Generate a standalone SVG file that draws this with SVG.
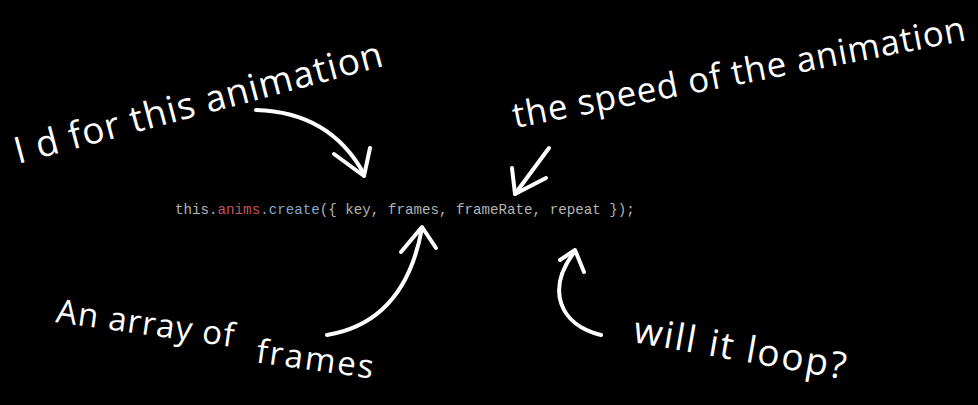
<svg xmlns="http://www.w3.org/2000/svg" width="978" height="405" viewBox="0 0 978 405">
<style>
.bg{fill:#000}
.hand{font-family:"Open Sans","Liberation Sans",sans-serif;fill:#fff;font-weight:400}
.code{font-family:"Liberation Mono","DejaVu Sans Mono",monospace;font-size:14.2px;fill:#b4b4b4}
.arr{fill:none;stroke:#fff;stroke-width:4;stroke-linecap:round;stroke-linejoin:round}
</style>
<rect class="bg" width="978" height="405"/>
<g id="code">
<text class="code" x="175" y="214">this.<tspan fill="#c0546a">anims</tspan><tspan fill="#7fa6cf">.create</tspan>({ key, frames, frameRate, repeat });</text>
</g>
<g id="label-id">
<text class="hand" font-size="37" letter-spacing="1" transform="translate(18,164) rotate(-15)">I d for this animation</text>
</g>
<g id="label-speed">
<text class="hand" font-size="35" letter-spacing="0.8" transform="translate(515,128) rotate(-11)">the speed of the animation</text>
</g>
<g id="label-frames">
<text class="hand" font-size="33" letter-spacing="1" transform="translate(55,322) rotate(8)">An array of <tspan dx="14" dy="12" letter-spacing="2">frames</tspan></text>
</g>
<g id="label-loop">
<text class="hand" font-size="37" letter-spacing="2" transform="translate(632,342) rotate(10)">will it loop?</text>
</g>
<g id="connectors">
<path class="arr" d="M256,110 Q330,112 364,174"/>
<path class="arr" d="M334,154 L364,176 L370,148"/>
<path class="arr" d="M549,148 L515,194"/>
<path class="arr" d="M512,168 L515,194 L546,178"/>
<path class="arr" d="M327,335 Q405,322 422,228"/>
<path class="arr" d="M401,252 L422,227 L436,248"/>
<path class="arr" d="M601,335 C560,325 545,290 575,251"/>
<path class="arr" d="M560,260 L575,250 L584,272"/>
</g>
</svg>
